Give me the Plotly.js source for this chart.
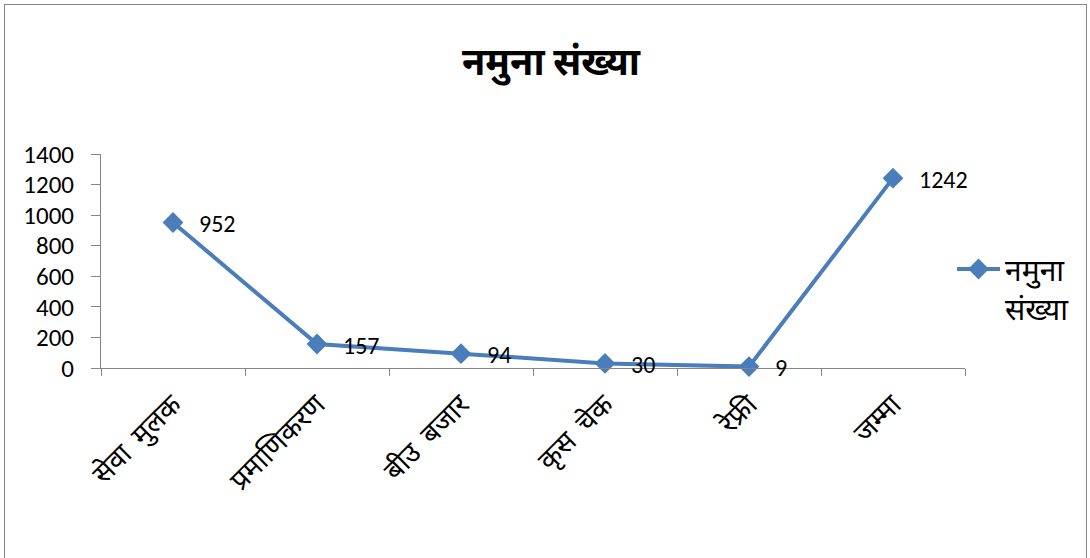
<!DOCTYPE html>
<html><head><meta charset="utf-8">
<script src="https://cdn.plot.ly/plotly-3.0.1.min.js"></script>
<style>html,body{margin:0;padding:0;background:#fff}#chart{width:1090px;height:558px}
#frame{position:absolute;left:4px;top:4px;width:1081px;height:560px;border:1px solid #868686;pointer-events:none}</style>
</head><body>
<div id="chart"></div>
<div id="frame"></div>
<script>
const categories = ["सेवा  मुलक", "प्रमाणिकरण", "बीउ  बजार", "कृस  चेक", "रेफ्री", "जम्मा"];
const values = [952, 157, 94, 30, 9, 1242];
const seriesName = "नमुना<br>संख्या";
const titleText = "नमुना संख्या";
const yTicks = [0, 200, 400, 600, 800, 1000, 1200, 1400];

const font = "Carlito, Calibri, 'Noto Sans', sans-serif";
const labelAnnotations = categories.map((c, i) => ({
  x: c, y: values[i], xref: 'x', yref: 'y', text: String(values[i]),
  showarrow: false, xanchor: 'left', yanchor: 'middle', xshift: 24, yshift: -1,
  font: {size: 24, family: font, color: '#000'}
}));

Plotly.newPlot('chart', [{
  x: categories, y: values, type: 'scatter', mode: 'lines+markers',
  name: seriesName,
  line: {color: '#4a7ebb', width: 4},
  marker: {symbol: 'diamond', size: 16, color: '#4a7ebb'},
  cliponaxis: false
}], {
  width: 1090, height: 558,
  margin: {l: 101, r: 125, t: 154, b: 190},
  paper_bgcolor: '#fff', plot_bgcolor: '#fff',
  title: {text: titleText, font: {size: 38, family: font, color: '#000', weight: 'bold'}, x: 0.5055, xref: 'container', xanchor: 'center', y: 0.89, yanchor: 'middle'},
  annotations: labelAnnotations,
  xaxis: {type: 'category', range: [-0.5, 5.5], tickangle: -45, ticks: 'outside', ticklen: 7, tickcolor: '#868686',
    tickson: 'boundaries', showline: true, linecolor: '#868686', linewidth: 1, showgrid: false, zeroline: false,
    ticklabelstandoff: 8,
    tickfont: {size: 28, family: font, color: '#000'}},
  yaxis: {range: [0, 1400], tickvals: yTicks, ticks: 'outside', ticklen: 9, tickcolor: '#868686', showline: true,
    linecolor: '#868686', showgrid: false, zeroline: false, ticklabelstandoff: 12,
    tickfont: {size: 25, family: font, color: '#000'}},
  showlegend: true,
  legend: {x: 0.985, xanchor: 'left', y: 0.584, yanchor: 'top', valign: 'top', itemwidth: 43,
    font: {size: 30, family: font, color: '#000'}, bgcolor: 'rgba(0,0,0,0)'}
}, {displayModeBar: false});
</script>
</body></html>
